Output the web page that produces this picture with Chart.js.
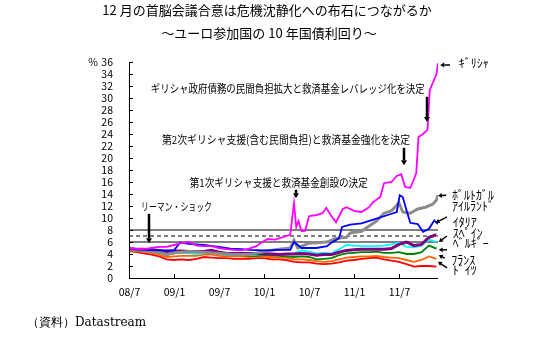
<!DOCTYPE html>
<html>
<head>
<meta charset="utf-8">
<script src="https://cdn.jsdelivr.net/npm/chart.js@4"></script>
<style>
html, body { margin: 0; padding: 0; background: #fff; }
#wrap { width: 560px; height: 354px; }
</style>
</head>
<body>
<div id="wrap"><canvas id="myChart" width="560" height="354"></canvas></div>
<script>
// month index: 0 = 2008/7 ... 41 = 2011/12
var months = [];
for (var m = 0; m <= 41; m++) months.push(m);
var tickMonths = [0, 6, 12, 18, 24, 30, 36];
var tickLabels = ["08/7", "09/1", "09/7", "10/1", "10/7", "11/1", "11/7"];
var yTicks = [0, 2, 4, 6, 8, 10, 12, 14, 16, 18, 20, 22, 24, 26, 28, 30, 32, 34, 36];
var xEnd = 41.2;
var refLines = [8, 7, 6];

var germany = [4.5, 4.3, 4.1, 3.9, 3.6, 3.1, 3.0, 3.1, 3.0, 3.2, 3.5, 3.4, 3.3, 3.3, 3.2, 3.2, 3.2, 3.3, 3.3, 3.1, 3.1, 3.0, 2.7, 2.6,
  2.6, 2.4, 2.3, 2.4, 2.6, 2.9, 3.0, 3.2, 3.3, 3.4, 3.1, 2.9, 2.7, 2.3, 1.9, 2.0, 2.0, 1.9];
var france = [4.6, 4.4, 4.4, 4.2, 3.9, 3.5, 3.6, 3.7, 3.7, 3.7, 3.9, 3.9, 3.7, 3.6, 3.6, 3.6, 3.5, 3.6, 3.5, 3.5, 3.4, 3.4, 3.1, 3.1,
  3.0, 2.8, 2.7, 2.8, 3.1, 3.4, 3.5, 3.6, 3.6, 3.7, 3.5, 3.4, 3.3, 3.0, 2.7, 3.0, 3.6, 3.2];
var belgium = [4.8, 4.6, 4.6, 4.5, 4.3, 3.9, 4.1, 4.3, 4.2, 4.2, 4.3, 4.3, 4.0, 3.9, 3.8, 3.8, 3.7, 3.7, 3.8, 3.8, 3.7, 3.6, 3.5, 3.6,
  3.5, 3.1, 3.2, 3.3, 3.8, 4.1, 4.2, 4.3, 4.3, 4.4, 4.2, 4.2, 4.3, 4.0, 4.0, 4.3, 5.4, 4.9];
var spain = [4.8, 4.7, 4.6, 4.5, 4.2, 3.9, 4.2, 4.2, 4.1, 4.0, 4.1, 4.3, 4.0, 3.9, 3.8, 3.8, 3.8, 3.9, 4.0, 4.0, 3.9, 3.9, 4.1, 4.6,
  4.4, 4.1, 4.2, 4.1, 4.8, 5.5, 5.4, 5.3, 5.3, 5.3, 5.4, 5.6, 5.9, 5.2, 5.1, 5.4, 6.4, 6.0];
var italy = [4.9, 4.8, 4.8, 4.7, 4.6, 4.4, 4.5, 4.5, 4.4, 4.4, 4.4, 4.6, 4.3, 4.1, 4.1, 4.1, 4.1, 4.1, 4.1, 4.0, 3.9, 4.0, 4.0, 4.1,
  4.0, 3.8, 3.9, 3.9, 4.3, 4.6, 4.7, 4.8, 4.8, 4.8, 4.8, 4.9, 5.6, 6.0, 5.4, 5.6, 6.8, 7.2];

var portugalX = [0, 2, 4, 5, 6, 8, 10, 12, 14, 16, 18, 20, 21.5, 22, 22.5, 24, 26.4, 27.5, 29, 29.5, 31, 33, 34, 35, 36,
  36.5, 37.5, 38.5, 39.5, 40.5, 41, 41.2];
var portugal = [4.8, 4.6, 4.3, 3.9, 4.2, 4.4, 4.3, 4.1, 3.9, 3.9, 4.4, 4.8, 5.0, 6.3, 5.0, 5.8, 6.0, 6.6, 6.8, 7.5, 7.8, 9.5, 10.8, 11.2, 12.5,
  11.0, 10.8, 11.5, 11.8, 12.3, 13.0, 13.8];

var irelandX = [0, 2, 4, 6, 6.8, 8, 10, 12, 13.5, 15, 16, 18, 20, 21.5, 22, 23, 25, 26.4, 27, 28, 28.4, 29.5, 31, 33, 34.5,
  35.7, 36.1, 36.5, 37, 37.5, 38.5, 39.2, 40, 40.7, 41.2];
var ireland = [4.8, 4.7, 4.6, 4.6, 5.9, 5.7, 5.5, 5.2, 4.9, 4.8, 4.7, 4.6, 4.7, 4.7, 6.0, 5.0, 5.0, 5.3, 5.9, 6.6, 8.5, 8.9, 9.1, 9.9, 10.5,
  11.0, 13.8, 13.5, 11.3, 9.2, 9.0, 7.7, 8.2, 9.6, 9.0];

var greeceX = [0, 2, 3, 4, 5, 6, 7, 8, 9, 10, 11, 12, 13, 14, 15, 16, 17, 17.5, 18.5, 19.5, 20.5, 21.5, 22, 22.3, 22.6, 23, 23.5,
  24, 25, 25.8, 26.3, 27, 27.6, 28.5, 29, 30, 31, 32, 32.5, 33.5, 34, 35, 35.7, 36.3, 36.8, 37.5, 38, 38.3, 38.6, 39.2, 39.8,
  40.1, 40.5, 41, 41.2];
var greece = [4.9, 4.8, 5.0, 5.2, 5.2, 5.5, 5.8, 6.0, 5.4, 5.3, 5.3, 5.0, 4.8, 4.7, 4.6, 4.9, 5.3, 5.8, 6.5, 6.4, 6.8, 7.2, 12.5, 8.5, 9.5, 7.8, 7.9,
  10.3, 10.5, 10.8, 11.7, 10.3, 9.3, 11.5, 11.8, 11.2, 11.0, 11.8, 12.6, 13.5, 15.8, 16.0, 17.0, 17.3, 15.2, 15.0, 16.5, 17.5, 23.5, 24.0, 24.7,
  31.3, 32.5, 34.0, 35.8];

var notes = [
  { text: "ギリシャ政府債務の民間負担拡大と救済基金レバレッジ化を決定", x: 2.9, y: 31.5, w: 274 },
  { text: "第2次ギリシャ支援(含む民間負担)と救済基金強化を決定", x: 4.4, y: 23.0, w: 248 },
  { text: "第1次ギリシャ支援と救済基金創設の決定", x: 8.1, y: 15.8, w: 178 },
  { text: "リーマン・ショック", x: 1.6, y: 11.8, w: 71 }
];
var noteArrows = [
  { x: 2.7, y1: 10.7, y2: 5.8 },
  { x: 22.3, y1: 14.7, y2: 13.3 },
  { x: 36.7, y1: 21.7, y2: 18.8 },
  { x: 39.7, y1: 30.2, y2: 26.0 }
];
var countryLabels = [
  { text: "ｷﾞﾘｼｬ", x: 43.3, y: 35.7, ax1: 42.8, ay1: 35.5, ax2: 41.5, ay2: 35.5 },
  { text: "ﾎﾟﾙﾄｶﾞﾙ", x: 42.4, y: 13.8, ax1: 42.3, ay1: 13.8, ax2: 41.2, ay2: 13.7 },
  { text: "ｱｲﾙﾗﾝﾄﾞ", x: 42.4, y: 12.0 },
  { text: "ｲﾀﾘｱ", x: 42.5, y: 9.3, ax1: 42.4, ay1: 10.2, ax2: 40.9, ay2: 9.2 },
  { text: "ｽﾍﾟｲﾝ", x: 42.5, y: 7.5, ax1: 42.4, ay1: 7.0, ax2: 41.3, ay2: 6.0 },
  { text: "ﾍﾞﾙｷﾞｰ", x: 42.5, y: 5.8, ax1: 42.4, ay1: 4.7, ax2: 41.3, ay2: 4.7 },
  { text: "ﾌﾗﾝｽ", x: 42.3, y: 3.0, ax1: 42.1, ay1: 3.3, ax2: 41.3, ay2: 3.8 },
  { text: "ﾄﾞｲﾂ", x: 42.5, y: 1.2, ax1: 42.4, ay1: 1.7, ax2: 41.2, ay2: 2.7 }
];

function pts(xs, ys) {
  return xs.map(function (x, i) { return { x: x, y: ys[i] }; });
}
function series(label, xs, ys, color, width) {
  return { label: label, data: pts(xs, ys), borderColor: color, borderWidth: width, pointRadius: 0, tension: 0, fill: false };
}

var datasets = [
  series("ギリシャ", greeceX, greece, "#ff00ff", 1.8),
  series("アイルランド", irelandX, ireland, "#0000ff", 1.8),
  series("ポルトガル", portugalX, portugal, "#8c8c8c", 3),
  series("イタリア", months, italy, "#800080", 3),
  series("スペイン", months, spain, "#00ffff", 1.8),
  series("ベルギー", months, belgium, "#008000", 1.8),
  series("フランス", months, france, "#ff6600", 1.8),
  series("ドイツ", months, germany, "#ff0000", 1.8)
];
refLines.forEach(function (v) {
  datasets.push({
    label: "ref" + v, data: pts([0, xEnd], [v, v]), borderColor: "#000", borderWidth: 1,
    borderDash: v === 7 ? [4, 3] : [], pointRadius: 0, fill: false
  });
});

var jp = '"Noto Sans CJK JP", sans-serif';

function arrow(ctx, x1, y1, x2, y2, lw, head) {
  var ang = Math.atan2(y2 - y1, x2 - x1);
  var bx = x2 - Math.cos(ang) * head, by = y2 - Math.sin(ang) * head;
  ctx.lineWidth = lw;
  ctx.beginPath();
  ctx.moveTo(x1, y1);
  ctx.lineTo(bx, by);
  ctx.stroke();
  ctx.beginPath();
  ctx.moveTo(x2, y2);
  ctx.lineTo(bx + Math.sin(ang) * head * 0.6, by - Math.cos(ang) * head * 0.6);
  ctx.lineTo(bx - Math.sin(ang) * head * 0.6, by + Math.cos(ang) * head * 0.6);
  ctx.closePath();
  ctx.fill();
}

var decor = {
  id: "decor",
  afterDraw: function (chart) {
    var ctx = chart.ctx, xs = chart.scales.x, ys = chart.scales.y, a = chart.chartArea;
    ctx.save();
    ctx.strokeStyle = "#000";
    ctx.fillStyle = "#000";
    ctx.lineWidth = 1;

    // axes
    ctx.beginPath();
    ctx.moveTo(a.left + 0.5, a.top);
    ctx.lineTo(a.left + 0.5, a.bottom + 0.5);
    ctx.lineTo(a.right, a.bottom + 0.5);
    ctx.stroke();

    ctx.font = "10.5px " + jp;
    ctx.textBaseline = "middle";
    ctx.textAlign = "right";
    yTicks.forEach(function (v) {
      var py = Math.round(ys.getPixelForValue(v)) + 0.5;
      ctx.beginPath();
      ctx.moveTo(a.left, py);
      ctx.lineTo(a.left + 4, py);
      ctx.stroke();
      ctx.fillText(String(v), a.left - 16, py);
    });
    ctx.textAlign = "center";
    ctx.fillText("%", a.left - 36, ys.getPixelForValue(36));

    tickMonths.forEach(function (v, i) {
      var px = Math.round(xs.getPixelForValue(v)) + 0.5;
      ctx.beginPath();
      ctx.moveTo(px, a.bottom);
      ctx.lineTo(px, a.bottom - 4);
      ctx.stroke();
      ctx.fillText(tickLabels[i], px, a.bottom + 14);
    });

    // titles
    ctx.font = "13px " + jp;
    ctx.fillText("12 月の首脳会議合意は危機沈静化への布石につながるか", 267, 10);
    ctx.fillText("～ユーロ参加国の 10 年国債利回り～", 269, 33);

    // event notes
    ctx.font = "11px " + jp;
    ctx.textAlign = "left";
    notes.forEach(function (n) {
      ctx.fillText(n.text, xs.getPixelForValue(n.x), ys.getPixelForValue(n.y), n.w);
    });
    noteArrows.forEach(function (n) {
      var px = Math.round(xs.getPixelForValue(n.x));
      arrow(ctx, px, ys.getPixelForValue(n.y1), px, ys.getPixelForValue(n.y2), 2.5, 5);
    });

    // country labels
    ctx.font = "12px " + jp;
    countryLabels.forEach(function (c) {
      ctx.fillText(c.text, xs.getPixelForValue(c.x) + 5, ys.getPixelForValue(c.y));
      if (c.ax1 !== undefined) {
        arrow(ctx, xs.getPixelForValue(c.ax1), ys.getPixelForValue(c.ay1),
          xs.getPixelForValue(c.ax2), ys.getPixelForValue(c.ay2), 1.5, 4);
      }
    });

    // source
    ctx.font = '12px "DejaVu Serif", "Liberation Serif", serif';
    ctx.fillText("（資料）Datastream", 27, 323);
    ctx.restore();
  }
};

var ctx = document.getElementById("myChart").getContext("2d");
var myChart = new Chart(ctx, {
  type: "line",
  data: { datasets: datasets },
  options: {
    responsive: false,
    animation: false,
    devicePixelRatio: 1,
    layout: { padding: { left: 129, right: 122, top: 62, bottom: 76 } },
    plugins: { legend: { display: false }, tooltip: { enabled: false } },
    scales: {
      x: { type: "linear", min: 0, max: xEnd, display: false },
      y: { min: 0, max: 36, display: false }
    }
  },
  plugins: [decor]
});
</script>
</body>
</html>
